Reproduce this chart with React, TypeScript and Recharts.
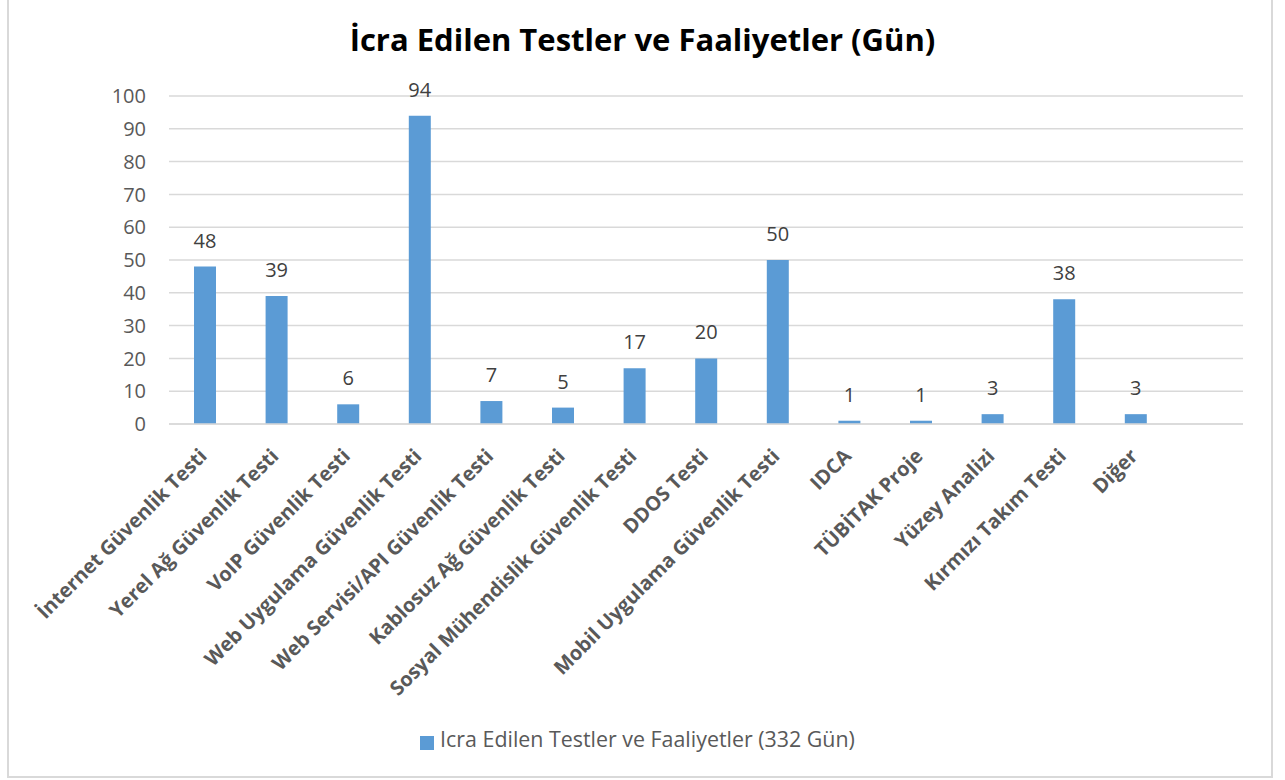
import React from "react";
import { BarChart, Bar, XAxis, YAxis, CartesianGrid, LabelList, Legend } from "recharts";

const categories = [
  "İnternet Güvenlik Testi",
  "Yerel Ağ Güvenlik Testi",
  "VoIP Güvenlik Testi",
  "Web Uygulama Güvenlik Testi",
  "Web Servisi/API Güvenlik Testi",
  "Kablosuz Ağ Güvenlik Testi",
  "Sosyal Mühendislik Güvenlik Testi",
  "DDOS Testi",
  "Mobil Uygulama Güvenlik Testi",
  "IDCA",
  "TÜBİTAK Proje",
  "Yüzey Analizi",
  "Kırmızı Takım Testi",
  "Diğer",
  "",
];
const days: (number | null)[] = [48, 39, 6, 94, 7, 5, 17, 20, 50, 1, 1, 3, 38, 3, null];
const yTicks = [0, 10, 20, 30, 40, 50, 60, 70, 80, 90, 100];

const seriesName = "Icra Edilen Testler ve Faaliyetler (332 Gün)";
const data = categories.map((name, i) => ({ name, value: days[i] }));

const FONT = "'Open Sans', Lato, sans-serif";

const AngledTick = (props: any) => {
  const { x, y, payload } = props;
  if (!payload.value) return null;
  const ax = x - 2;
  const ay = y + 20;
  return (
    <text
      x={ax}
      y={ay}
      transform={`rotate(-45, ${ax}, ${ay})`}
      textAnchor="end"
      dominantBaseline="central"
      fontSize={20}
      fontWeight={700}
      fill="#595959"
      fontFamily={FONT}
    >
      {payload.value}
    </text>
  );
};

export default function App() {
  return (
    <div style={{ position: "absolute", left: 0, top: 0, width: 1285, height: 780, background: "#fff", fontFamily: FONT }}>
      <div
        style={{
          position: "absolute",
          left: 7,
          top: -3,
          width: 1262,
          height: 777,
          border: "2px solid #d9d9d9",
        }}
      />
      <div
        style={{
          position: "absolute",
          left: 0,
          top: 18,
          width: 1285,
          textAlign: "center",
          fontSize: 31,
          fontWeight: 700,
          color: "#000",
        }}
      >
        İcra Edilen Testler ve Faaliyetler (Gün)
      </div>
      <div style={{ position: "absolute", left: 0, top: 0 }}>
        <BarChart
          width={1285}
          height={780}
          data={data}
          margin={{ top: 96, right: 42, bottom: 24, left: 0 }}
          barSize={22}
        >
          <CartesianGrid vertical={false} stroke="#d9d9d9" strokeWidth={1.5} />
          <XAxis
            dataKey="name"
            interval={0}
            tickLine={false}
            axisLine={{ stroke: "#d9d9d9", strokeWidth: 1.5 }}
            tick={<AngledTick />}
            height={304}
          />
          <YAxis
            domain={[0, 100]}
            ticks={yTicks}
            axisLine={false}
            tickLine={false}
            tickSize={0}
            tickMargin={23}
            width={169}
            tick={{ fontSize: 20, fill: "#595959", fontFamily: FONT }}
          />
          <Legend
            verticalAlign="bottom"
            align="center"
            iconType="square"
            iconSize={14}
            height={28}
            wrapperStyle={{ left: 0, width: 1285, bottom: 28 }}
            formatter={(v: string) => (
              <span style={{ color: "#595959", fontSize: 21.4, fontFamily: FONT, marginLeft: 2 }}>{v}</span>
            )}
          />
          <Bar dataKey="value" name={seriesName} fill="#5B9BD5" isAnimationActive={false}>
            <LabelList
              dataKey="value"
              position="top"
              offset={19}
              style={{ fontSize: 20, fill: "#404040", fontFamily: FONT }}
            />
          </Bar>
        </BarChart>
      </div>
    </div>
  );
}
